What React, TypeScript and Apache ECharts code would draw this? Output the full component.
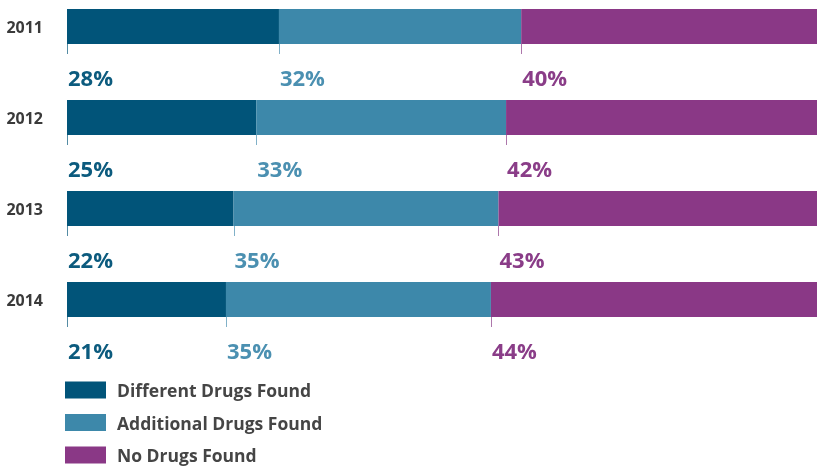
import React, { useEffect, useRef } from "react";
import * as echarts from "echarts";

const years = ["2011", "2012", "2013", "2014"];
const differentDrugs = [28, 25, 22, 21];
const additionalDrugs = [32, 33, 35, 35];
const noDrugs = [40, 42, 43, 44];
const seriesNames = ["Different Drugs Found", "Additional Drugs Found", "No Drugs Found"];
const colors = ["#015479", "#3d88aa", "#8a3886"];
const labelColors = ["#0c5b7e", "#4b90b1", "#8a3d88"];

export default function App() {
  const ref = useRef<HTMLDivElement>(null);
  useEffect(() => {
    if (!ref.current) return;
    const chart = echarts.init(ref.current, null, { renderer: "svg" });
    const seriesData = [differentDrugs, additionalDrugs, noDrugs];
    // tick/label items: [start, pct, categoryIndex, seriesIndex]
    const tickData: number[][] = [];
    years.forEach((_, ci) => {
      let start = 0;
      seriesData.forEach((arr, si) => {
        tickData.push([start, arr[ci], ci, si]);
        start += arr[ci];
      });
    });
    const barHeight = 35;
    chart.setOption({
      animation: false,
      grid: {
        left: 67,
        width: 757,
        top: -19,
        height: 364,
        containLabel: false,
        outerBoundsMode: "none",
      },
      xAxis: { type: "value", min: 0, max: 100, show: false },
      yAxis: {
        type: "category",
        data: years,
        inverse: true,
        axisLine: { show: false },
        axisTick: { show: false },
        axisLabel: {
          margin: 24,
          color: "#3a3a3a",
          fontFamily: "Open Sans",
          fontWeight: "bold",
          fontSize: 16,
        },
      },
      legend: {
        orient: "vertical",
        left: 65,
        top: 381,
        padding: 0,
        itemWidth: 41,
        itemHeight: 17,
        itemGap: 14.5,
        icon: "rect",
        data: seriesNames,
        textStyle: {
          color: "#454545",
          fontFamily: "Open Sans",
          fontWeight: "bold",
          fontSize: 17.5,
          padding: [0, 0, 0, 6],
        },
      },
      series: [
        ...seriesData.map((arr, si) => ({
          type: "bar",
          name: seriesNames[si],
          stack: "total",
          data: arr,
          barWidth: barHeight,
          itemStyle: { color: colors[si] },
        })),
        {
          type: "custom",
          data: tickData,
          silent: true,
          renderItem: (params: any, api: any) => {
            const start = api.value(0);
            const pct = api.value(1);
            const ci = api.value(2);
            const si = api.value(3);
            const p = api.coord([start, ci]);
            const bottom = p[1] + barHeight / 2;
            return {
              type: "group",
              children: [
                {
                  type: "line",
                  shape: { x1: Math.round(p[0]) + 0.5, y1: bottom, x2: Math.round(p[0]) + 0.5, y2: bottom + 10 },
                  style: { stroke: labelColors[si], lineWidth: 1, opacity: 0.7 },
                },
                {
                  type: "text",
                  x: p[0] + 1,
                  y: p[1] + 50,
                  style: {
                    text: pct + "%",
                    fill: labelColors[si],
                    font: "bold 22px 'Open Sans'",
                    align: "left",
                    verticalAlign: "middle",
                  },
                },
              ],
            };
          },
        },
      ],
    });
    return () => chart.dispose();
  }, []);
  return <div ref={ref} style={{ position: "fixed", left: 0, top: 0, width: 817, height: 468 }} />;
}
